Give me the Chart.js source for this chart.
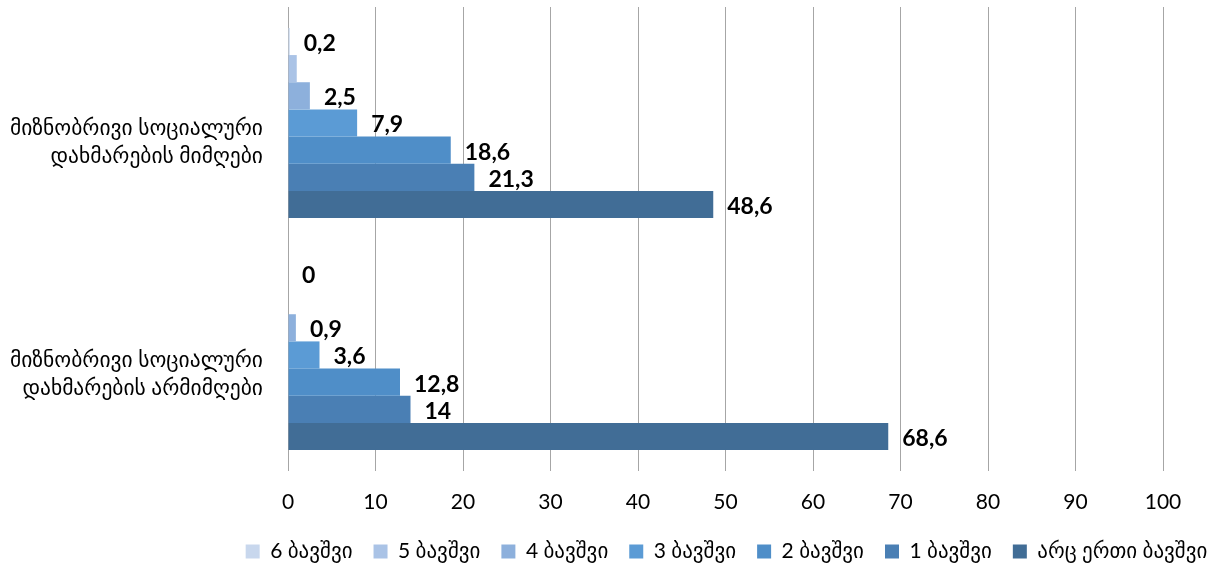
<!DOCTYPE html>
<html>
<head>
<meta charset="utf-8">
<script src="https://cdn.jsdelivr.net/npm/chart.js@4.4.0/dist/chart.umd.min.js"></script>
<style>
  html, body { margin: 0; padding: 0; background: #fff; }
  #wrap { width: 1215px; height: 567px; }
</style>
</head>
<body>
<div id="wrap"><canvas id="chart" width="1215" height="567"></canvas></div>
<script>
// Categories (y axis)
const categories = [
    ['მიზნობრივი სოციალური', 'დახმარების მიმღები'],
    ['მიზნობრივი სოციალური', 'დახმარების არმიმღები']
];

// Series names, as in the legend
const seriesNames = ['6 ბავშვი', '5 ბავშვი', '4 ბავშვი', '3 ბავშვი', '2 ბავშვი', '1 ბავშვი', 'არც ერთი ბავშვი'];

// Values per series: [მიმღები, არმიმღები]
const sixKids   = [0.2, 0];
const fiveKids  = [1.0, null];
const fourKids  = [2.5, 0.9];
const threeKids = [7.9, 3.6];
const twoKids   = [18.6, 12.8];
const oneKid    = [21.3, 14];
const noKids    = [48.6, 68.6];

// x axis ticks
const xTicks = [0, 10, 20, 30, 40, 50, 60, 70, 80, 90, 100];

// points that carry no value label in the original
const hiddenLabels = ['1-0'];

const seriesValues = [sixKids, fiveKids, fourKids, threeKids, twoKids, oneKid, noKids];
const seriesColors = ['#c8d7ed', '#aac3e6', '#8db0dc', '#5b9bd5', '#4f8ec8', '#4a7fb4', '#416d96'];

const font = "Lato, 'DejaVu Sans', sans-serif";

// Value labels next to bar ends
const valueLabels = {
    id: 'valueLabels',
    afterDatasetsDraw(chart) {
        const ctx = chart.ctx;
        ctx.save();
        ctx.font = "bold 23px " + font;
        ctx.fillStyle = '#000';
        ctx.textAlign = 'left';
        ctx.textBaseline = 'middle';
        chart.data.datasets.forEach((ds, i) => {
            const meta = chart.getDatasetMeta(i);
            meta.data.forEach((bar, j) => {
                const v = ds.data[j];
                if (v === null || hiddenLabels.includes(i + '-' + j)) return;
                ctx.fillText(String(v).replace('.', ','), bar.x + 14, bar.y + 2);
            });
        });
        ctx.restore();
    }
};

// move the legend right, like the original, and give it room below
const legendShift = {
    id: 'legendShift',
    afterLayout(chart) {
        chart.legend.left += 145;
        chart.legend.right += 145;
        chart.legend.top -= 3;
        chart.legend.bottom = 567;
    }
};

const ctx = document.getElementById('chart').getContext('2d');
new Chart(ctx, {
    type: 'bar',
    data: {
        labels: categories,
        datasets: seriesNames.map((name, i) => ({
            label: name,
            data: seriesValues[i],
            backgroundColor: seriesColors[i],
            borderWidth: 0,
            categoryPercentage: 0.82,
            barPercentage: 1.0
        }))
    },
    options: {
        indexAxis: 'y',
        responsive: false,
        animation: false,
        layout: { padding: { top: 7, right: 52, left: 0, bottom: 4 } },
        scales: {
            x: {
                min: 0,
                max: 100,
                afterBuildTicks: function(scale) {
                    scale.ticks = xTicks.map(v => ({ value: v }));
                },
                afterFit: function(scale) {
                    scale.height = 567 - 471 - 4 - scale.chart.legend.height;
                    scale.paddingLeft = 0;
                    scale.paddingRight = 0;
                },
                grid: { color: '#a6a6a6', lineWidth: 1, drawTicks: false },
                border: { display: false },
                ticks: {
                    padding: 19,
                    color: '#000',
                    font: { family: font, size: 21 }
                }
            },
            y: {
                afterFit: function(scale) {
                    scale.width = 288;
                    scale.paddingTop = 0;
                    scale.paddingBottom = 0;
                },
                grid: { display: false },
                border: { display: false },
                ticks: {
                    padding: 17,
                    labelOffset: 19,
                    color: '#000',
                    font: { family: font, size: 21.5, lineHeight: 1.28 }
                }
            }
        },
        plugins: {
            tooltip: { enabled: false },
            legend: {
                position: 'bottom',
                maxHeight: 40,
                labels: {
                    color: '#000',
                    boxWidth: 14,
                    boxHeight: 14,
                    padding: 21,
                    font: { family: font, size: 21 }
                }
            }
        }
    },
    plugins: [valueLabels, legendShift]
});
</script>
</body>
</html>
